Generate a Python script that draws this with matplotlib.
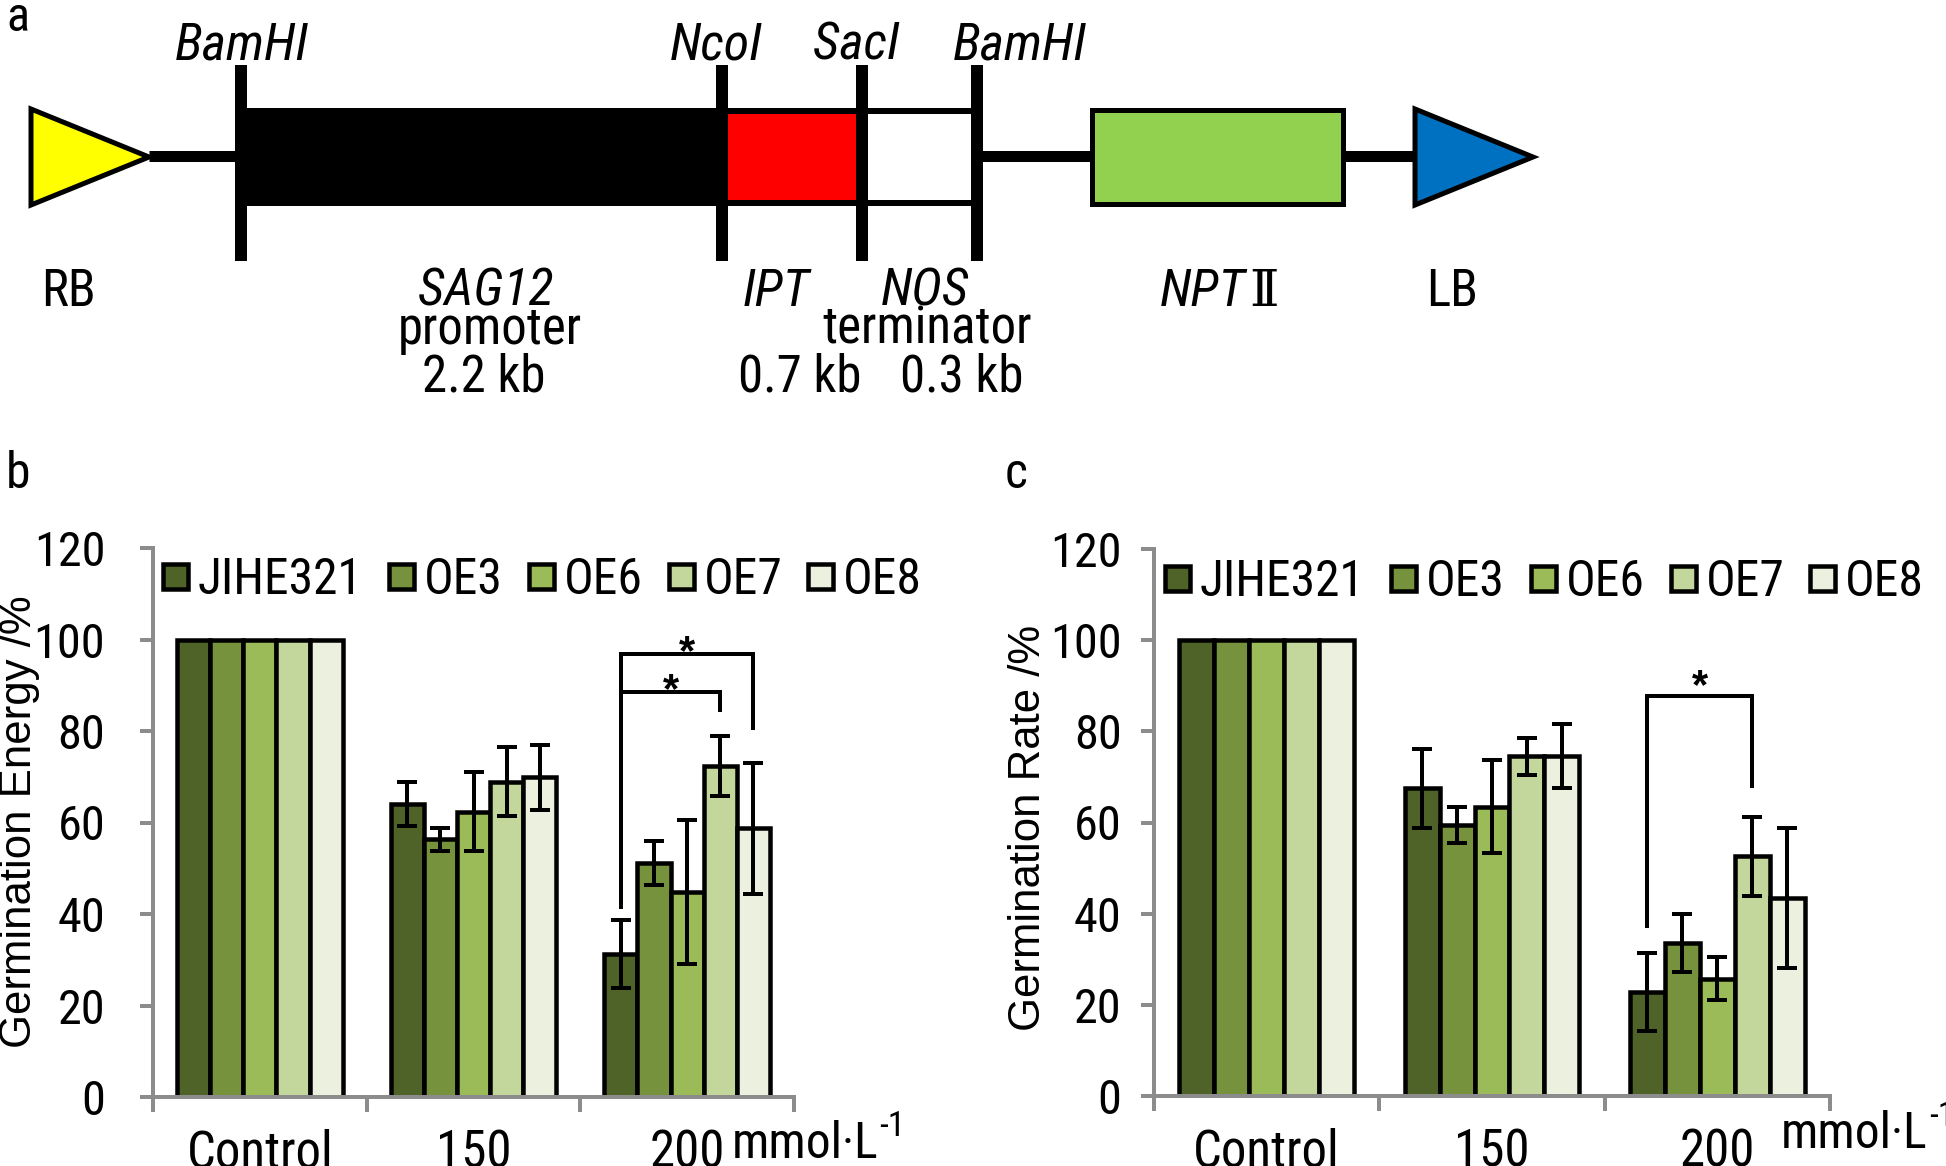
import os
import numpy as np
import matplotlib
matplotlib.use("Agg")
import matplotlib.pyplot as plt
from matplotlib.patches import Rectangle, Polygon
from matplotlib import font_manager as fm
from matplotlib.font_manager import FontProperties

W, H, DPI = 1946, 1166, 100

# ---------------- data ----------------
groups = ["Control", "150", "200"]
series = ["JIHE321", "OE3", "OE6", "OE7", "OE8"]
colors = ["#4F6228", "#76923C", "#9BBB59", "#C3D69B", "#EBF1DE"]

# Germination energy (%), rows = series, cols = groups
ge_mean = [
    [100, 64.0, 31.2],
    [100, 56.3, 51.2],
    [100, 62.4, 44.8],
    [100, 68.9, 72.3],
    [100, 69.9, 58.7],
]
ge_err = [
    [0, 4.8, 7.4],
    [0, 2.5, 4.8],
    [0, 8.7, 15.8],
    [0, 7.5, 6.6],
    [0, 7.1, 14.4],
]
# Germination rate (%)
gr_mean = [
    [100, 67.5, 22.8],
    [100, 59.5, 33.6],
    [100, 63.5, 25.7],
    [100, 74.5, 52.6],
    [100, 74.5, 43.5],
]
gr_err = [
    [0, 8.6, 8.6],
    [0, 4.0, 6.3],
    [0, 10.2, 4.7],
    [0, 4.0, 8.7],
    [0, 7.0, 15.4],
]
# significance brackets in the "200" group:
# (left series, right series, top, left-leg bottom, right-leg bottom, star centre)
ge_sig = [(0, 3, 88.5, 41.6, 84.6, 91.6), (0, 4, 96.8, 41.6, 80.7, 99.9)]
gr_sig = [(0, 3, 87.8, 37.4, 68.0, 92.5)]

yticks = [0, 20, 40, 60, 80, 100, 120]

# ---------------- fonts ----------------
REG = ["Liberation Sans", "DejaVu Sans"]
plt.rcParams["font.family"] = REG
GRAY = "#8C8C8C"

_files = {}
for f in fm.fontManager.ttflist:
    _files.setdefault(os.path.basename(f.fname).lower(), f.fname)

def _pick(cands):
    for c in cands:
        if c in _files:
            return _files[c]
    return None

NAR_R = _pick(["liberationsansnarrow-regular.ttf", "robotocondensed-regular.ttf",
               "notosans-condensed.ttf", "opensans-condensedregular.ttf",
               "opensans_condensed-regular.ttf", "arimo-narrow.ttf"])
NAR_I = _pick(["liberationsansnarrow-italic.ttf", "robotocondensed-italic.ttf",
               "notosans-condenseditalic.ttf", "opensans-condenseditalic.ttf",
               "opensans_condensed-italic.ttf"])

fig = plt.figure(figsize=(W / DPI, H / DPI), dpi=DPI)
_r = fig.canvas.get_renderer()
SAMPLE = "Control 150 200 JIHE321 OE3 promoter"

def _width(fp):
    t = fig.text(0, 0, SAMPLE, fontproperties=fp)
    w = t.get_window_extent(_r).width
    t.remove()
    return w

def _base(italic, size):
    fn = NAR_I if italic else NAR_R
    if fn:
        return FontProperties(fname=fn, size=size)
    return FontProperties(family="Liberation Sans", style="italic" if italic else "normal", size=size)

_wref = _width(FontProperties(family="Liberation Sans", size=100))
RATIO_R = min(1.0, 0.82 * _wref / _width(_base(False, 100)))
RATIO_I = min(1.0, 0.82 * _wref / _width(_base(True, 100)))

def NF(size, italic=False):
    """narrow-looking font of the given nominal size"""
    return _base(italic, size * (RATIO_I if italic else RATIO_R))

ov = fig.add_axes([0, 0, 1, 1])
ov.set_xlim(0, W)
ov.set_ylim(H, 0)
ov.axis("off")

def px2pt(p):
    return p * 72.0 / DPI

# ---------------- panel a : construct schematic ----------------
ov.text(6, 31, "a", fontproperties=NF(37), va="baseline", ha="left")
line_y = 156
for x0, x1 in [(149, 241), (977, 1092), (1343, 1415)]:
    ov.plot([x0, x1], [line_y, line_y], color="black", lw=px2pt(11), solid_capstyle="butt", zorder=1)
ov.add_patch(Polygon([(31, 109), (31, 205), (149, 157)], closed=True, facecolor="#FFFF00",
                     edgecolor="black", lw=px2pt(5), zorder=2))
ov.add_patch(Polygon([(1415, 109), (1415, 205), (1533, 157)], closed=True, facecolor="#0070C0",
                     edgecolor="black", lw=px2pt(5), zorder=2))
ov.add_patch(Rectangle((241, 108), 481, 98, facecolor="black", edgecolor="none", zorder=2))
ov.add_patch(Rectangle((722, 108), 255, 98, facecolor="black", edgecolor="none", zorder=2))
ov.add_patch(Rectangle((722, 114), 140, 86, facecolor="#FF0000", edgecolor="none", zorder=2))
ov.add_patch(Rectangle((862, 114), 115, 86, facecolor="white", edgecolor="none", zorder=2))
ov.add_patch(Rectangle((1092, 110), 251, 94, facecolor="#92D050", edgecolor="black",
                       lw=px2pt(5), zorder=2))
for sx in [241, 722, 862, 977]:
    ov.plot([sx, sx], [65, 261], color="black", lw=px2pt(12), solid_capstyle="butt", zorder=3)

fs_a = 39
for lbl, cx in [("BamHI", 242), ("NcoI", 716), ("SacI", 856), ("BamHI", 1020)]:
    ov.text(cx, 59, lbl, fontproperties=NF(fs_a, True), ha="center", va="baseline")
for lbl, cx, it in [("RB", 68, False), ("SAG12", 486, True), ("IPT", 776, True),
                    ("NOS", 925, True), ("LB", 1452, False)]:
    ov.text(cx, 306, lbl, fontproperties=NF(fs_a, it), ha="center", va="baseline")
t_npt = ov.text(1160, 306, "NPT", fontproperties=NF(fs_a, True), ha="left", va="baseline")
ov.text(490, 344, "promoter", fontproperties=NF(fs_a), ha="center", va="baseline")
ov.text(927, 344, "terminator", fontproperties=NF(fs_a), ha="center", va="baseline")
ov.text(484, 391, "2.2 kb", fontproperties=NF(fs_a), ha="center", va="baseline")
ov.text(800, 391, "0.7 kb", fontproperties=NF(fs_a), ha="center", va="baseline")
ov.text(962, 391, "0.3 kb", fontproperties=NF(fs_a), ha="center", va="baseline")

bb = t_npt.get_window_extent(_r)
ov.text(bb.x1 + 3, 306, "\u2161", fontsize=fs_a * 0.92, family=["DejaVu Serif", "DejaVu Sans"],
        ha="left", va="baseline")

# ---------------- bar panels ----------------
bw = 0.155
xg = np.arange(len(groups))
LEG_FS = 38

def panel(left, right, bottom, top, mean, err, sig, ylabel, ylab_x, ylab_y, ypad,
          leg_x, leg_y, letter, letter_x, unit_x, unit_y):
    ax = fig.add_axes([left / W, 1 - bottom / H, (right - left) / W, (bottom - top) / H])
    ax.set_xlim(-0.5, 2.5)
    ax.set_ylim(0, 120)
    ax.patch.set_alpha(0)
    bars = []
    for i, (name, col) in enumerate(zip(series, colors)):
        xs = xg + (i - 2) * bw
        b = ax.bar(xs, mean[i], bw, color=col, edgecolor="black", linewidth=px2pt(4.5),
                   zorder=2, label=name)
        bars.append(b)
        ax.errorbar(xs[1:], mean[i][1:], yerr=err[i][1:], fmt="none", ecolor="black",
                    elinewidth=px2pt(4), capsize=px2pt(10), capthick=px2pt(4), zorder=3)
    for (sl, sr, ytop, ylb, yrb, ystar) in sig:
        xl = xg[2] + (sl - 2) * bw
        xr = xg[2] + (sr - 2) * bw
        ax.plot([xl, xl, xr, xr], [ylb, ytop, ytop, yrb], color="black", lw=px2pt(4),
                solid_joinstyle="miter", zorder=4, clip_on=False)
        ax.annotate("*", xy=((xl + xr) / 2, ystar), xytext=(0, -0.58 * 30),
                    textcoords="offset points", ha="center", va="baseline",
                    fontsize=30, fontweight="bold", family=REG)
    for s in ["top", "right"]:
        ax.spines[s].set_visible(False)
    for s in ["left", "bottom"]:
        ax.spines[s].set_color(GRAY)
        ax.spines[s].set_linewidth(px2pt(4))
    ax.set_yticks(yticks)
    ax.set_yticklabels([str(v) for v in yticks], fontproperties=NF(37))
    ax.tick_params(axis="y", direction="out", length=px2pt(13), width=px2pt(4),
                   color=GRAY, pad=ypad)
    ax.set_xticks(xg)
    ax.set_xticklabels(groups, fontproperties=NF(39))
    ax.set_xticks([-0.5, 0.5, 1.5, 2.5], minor=True)
    ax.tick_params(axis="x", which="major", length=0, pad=23)
    ax.tick_params(axis="x", which="minor", direction="out", length=px2pt(15),
                   width=px2pt(4), color=GRAY)
    fig.text(ylab_x / W, 1 - ylab_y / H, ylabel, rotation=90, ha="center", va="center",
             fontsize=31.5, family=REG)
    lfp = NF(LEG_FS)
    fs_px = lfp.get_size_in_points() * DPI / 72.0
    sq = 25.0
    fig.legend(bars, series, loc="center left", bbox_to_anchor=(leg_x / W, 1 - leg_y / H),
               ncol=5, frameon=False, prop=lfp, handlelength=sq / fs_px,
               handleheight=(sq / fs_px - 0.245) / 0.65,
               handletextpad=10.0 / fs_px, columnspacing=26.0 / fs_px,
               borderpad=0, borderaxespad=0)
    ov.text(letter_x, 488, letter, fontproperties=NF(38), va="baseline", ha="left")
    tu = ov.text(unit_x, unit_y, "mmol\u00b7L", fontproperties=NF(38), ha="left", va="baseline")
    bbu = tu.get_window_extent(_r)
    ov.text(bbu.x1 + 1, unit_y - 22, "-1", fontproperties=NF(27), ha="left", va="baseline")
    return ax

panel(153, 794, 1097, 548, ge_mean, ge_err, ge_sig, "Germination Energy /%", 20, 822, 25,
      163, 580, "b", 6, 732, 1158)
panel(1154, 1830, 1096, 549, gr_mean, gr_err, gr_sig, "Germination Rate /%", 1028, 828, 14,
      1165, 582, "c", 1005, 1781, 1148)

fig.savefig("out.png", dpi=DPI)
